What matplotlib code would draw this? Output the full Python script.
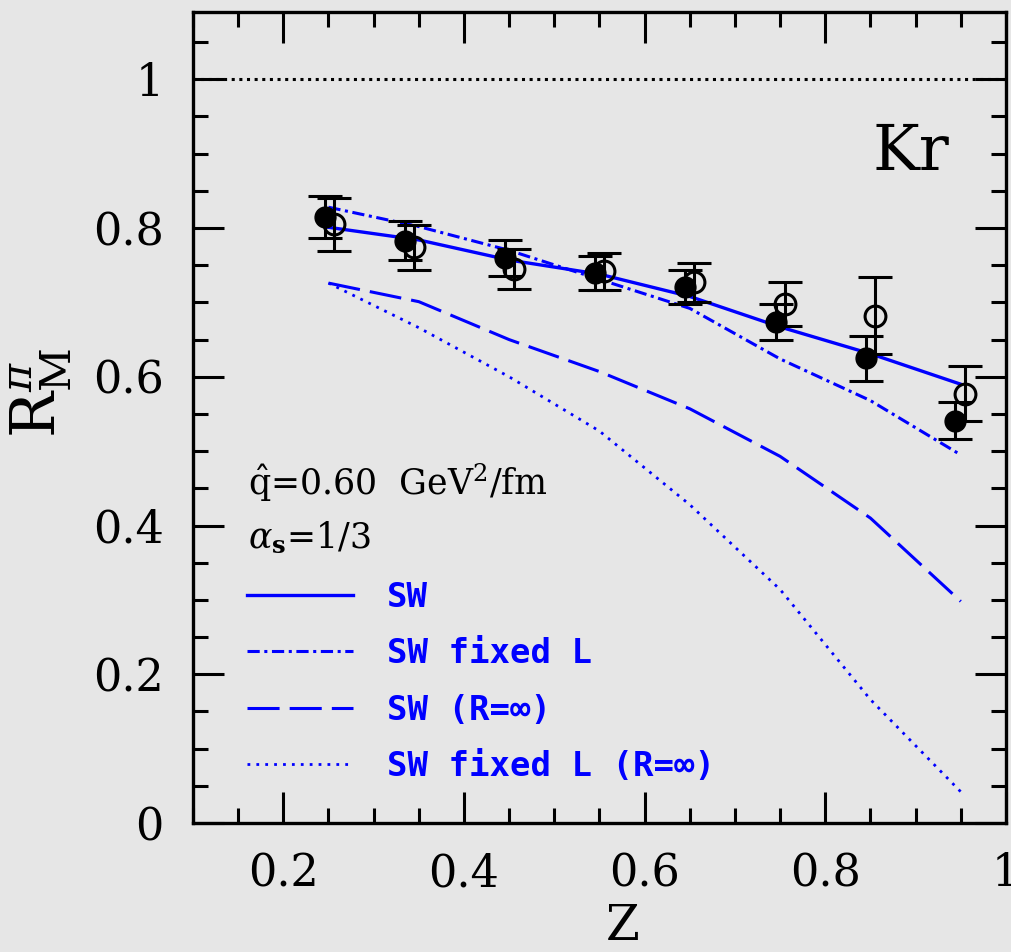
import matplotlib
matplotlib.use("Agg")
import matplotlib.pyplot as plt
from matplotlib.ticker import MultipleLocator

plt.rcParams['font.family'] = ['DejaVu Serif']
plt.rcParams['mathtext.fontset'] = 'dejavuserif'

# data points (Kr), filled and open symbols
z_bins = [0.25, 0.35, 0.45, 0.55, 0.65, 0.75, 0.85, 0.95]
filled_x = [0.246, 0.335, 0.445, 0.545, 0.645, 0.745, 0.845, 0.944]
filled_y = [0.815, 0.783, 0.760, 0.740, 0.721, 0.674, 0.625, 0.541]
filled_err = [0.028, 0.026, 0.024, 0.023, 0.023, 0.024, 0.030, 0.025]
open_x = [0.256, 0.345, 0.455, 0.555, 0.655, 0.755, 0.855, 0.955]
open_y = [0.805, 0.774, 0.745, 0.742, 0.727, 0.698, 0.682, 0.577]
open_err = [0.036, 0.030, 0.027, 0.025, 0.026, 0.030, 0.052, 0.037]

# model curves
sw = [0.801, 0.784, 0.757, 0.738, 0.708, 0.667, 0.631, 0.590]
sw_fixed = [0.828, 0.802, 0.770, 0.731, 0.692, 0.624, 0.568, 0.495]
sw_rinf = [0.726, 0.701, 0.650, 0.607, 0.557, 0.493, 0.410, 0.298]
sw_fixed_rinf = [0.726, 0.666, 0.600, 0.527, 0.428, 0.314, 0.166, 0.042]

bg = '#e6e6e6'
blue = '#0000ff'

fig = plt.figure(figsize=(10.12, 9.52), dpi=100, facecolor=bg)
ax = fig.add_axes([0.1907, 0.1355, 0.8033, 0.8515], facecolor=bg)

ax.axhline(1.0, color='black', lw=2.2, dashes=(1, 1.5), zorder=1)

ax.plot(z_bins, sw, color=blue, lw=2.4, label='SW')
ax.plot(z_bins, sw_fixed, color=blue, lw=2.2, dashes=(4, 1.5, 1, 1.5), label='SW fixed L')
ax.plot(z_bins, sw_rinf, color=blue, lw=2.2, dashes=(10.5, 3.3), label='SW (R=\u221e)')
ax.plot(z_bins, sw_fixed_rinf, color=blue, lw=2.0, dashes=(1, 2.2), label='SW fixed L (R=\u221e)')

ax.errorbar(filled_x, filled_y, yerr=filled_err, fmt='o', color='black', ms=15,
            elinewidth=2.2, capsize=12, capthick=2.2, zorder=5)
ax.errorbar(open_x, open_y, yerr=open_err, fmt='o', color='black', ms=15, mfc='none',
            mew=2.2, elinewidth=2.2, capsize=12, capthick=2.2, zorder=5)

ax.set_xlim(0.1, 1.0)
ax.set_ylim(0, 1.09)
ax.xaxis.set_major_locator(MultipleLocator(0.2))
ax.xaxis.set_minor_locator(MultipleLocator(0.05))
ax.yaxis.set_major_locator(MultipleLocator(0.2))
ax.yaxis.set_minor_locator(MultipleLocator(0.05))
ax.xaxis.set_major_formatter(plt.FuncFormatter(lambda v, p: '%g' % round(v, 2)))
ax.yaxis.set_major_formatter(plt.FuncFormatter(lambda v, p: '%g' % round(v, 2)))
ax.tick_params(which='both', direction='in', top=True, right=True, width=2.2,
               labelsize=32, pad=21)
ax.tick_params(which='major', length=22)
ax.tick_params(which='minor', length=11)
for s in ax.spines.values():
    s.set_linewidth(2.4)

ax.set_xlabel('Z', fontsize=35)
ax.xaxis.set_label_coords(0.528, -0.099)
ax.set_ylabel(r'R$^{\pi}_{\mathrm{M}}$', fontsize=44)
ax.yaxis.set_label_coords(-0.146, 0.53)

ax.text(0.836, 0.805, 'Kr', transform=ax.transAxes, fontsize=45)
ax.text(0.068, 0.42, r'$\hat{\mathrm{q}}$=0.60  GeV$^2$/fm', transform=ax.transAxes,
        fontsize=25, va='center')
ax.text(0.068, 0.352, r'$\alpha_{\mathbf{s}}$=1/3', transform=ax.transAxes,
        fontsize=25, va='center')

leg = ax.legend(loc='upper left', bbox_to_anchor=(0.029, 0.336), frameon=False,
                handlelength=3.1, handletextpad=1.0, labelspacing=0.68,
                prop={'family': 'DejaVu Sans Mono', 'size': 24.5, 'weight': 'bold'})
for t in leg.get_texts():
    t.set_color(blue)

fig.savefig('out.png', dpi=100, facecolor=bg)
